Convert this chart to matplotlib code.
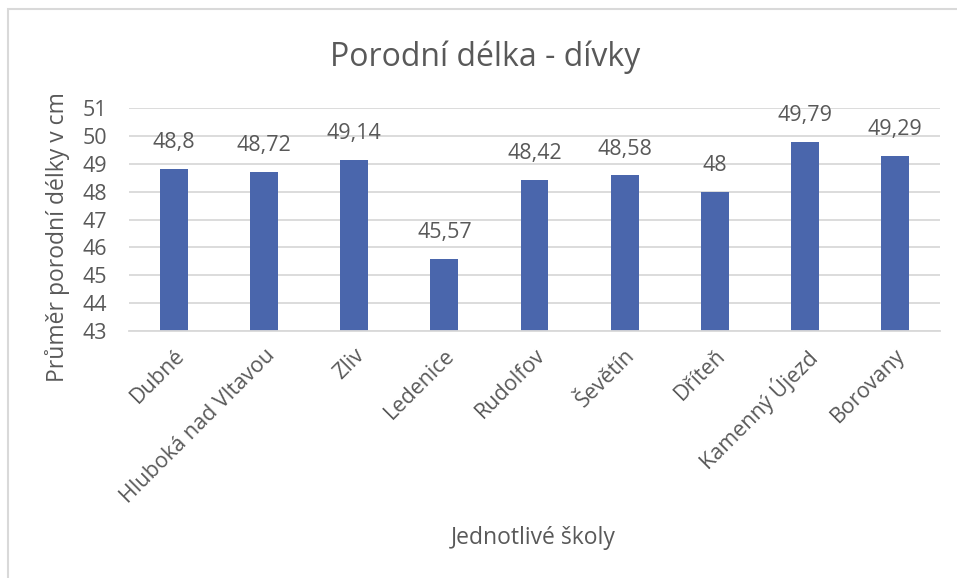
import numpy as np
import matplotlib.pyplot as plt
from matplotlib.patches import Rectangle

schools = ['Dubné', 'Hluboká nad Vltavou', 'Zliv', 'Ledenice', 'Rudolfov',
           'Ševětín', 'Dříteň', 'Kamenný Újezd', 'Borovany']
lengths = [48.8, 48.72, 49.14, 45.57, 48.42, 48.58, 48.0, 49.79, 49.29]
labels = ['48,8', '48,72', '49,14', '45,57', '48,42', '48,58', '48', '49,79', '49,29']
yticks = [43, 44, 45, 46, 47, 48, 49, 50, 51]

txt = '#595959'
grid = '#D9D9D9'
plt.rcParams['font.family'] = ['Open Sans', 'DejaVu Sans']

fig = plt.figure(figsize=(9.57, 5.78), dpi=100)
# chart frame (cut off on right and bottom)
fig.patches.append(Rectangle((8 / 957, -0.1), 1.2, 1 - 9 / 578 + 0.1,
                             transform=fig.transFigure, fill=False,
                             edgecolor=grid, lw=1.5))

ax = fig.add_axes([129 / 957, 1 - 331 / 578, (940 - 129) / 957, (331 - 108) / 578])
x = np.arange(len(schools))
ax.bar(x, lengths, width=0.31, color='#4A66AC', zorder=3)
ax.set_ylim(43, 51)
ax.set_xlim(-0.5, len(schools) - 0.5)
ax.set_yticks(yticks)
ax.grid(axis='y', color=grid, lw=1.3, zorder=0)
for s in ['top', 'right', 'left']:
    ax.spines[s].set_visible(False)
ax.spines['bottom'].set_color(grid)
ax.spines['bottom'].set_linewidth(1.3)
ax.spines['bottom'].set_zorder(4)
ax.tick_params(axis='both', length=0, labelsize=15.5, labelcolor=txt)
ax.tick_params(axis='y', pad=16)
ax.set_xticks(x)
ax.set_xticklabels(schools, rotation=45, ha='right', va='top',
                   rotation_mode='anchor')
ax.tick_params(axis='x', pad=10)

for xi, v, l in zip(x, lengths, labels):
    ax.annotate(l, (xi, v), xytext=(0, 19), textcoords='offset points',
                ha='center', va='center', fontsize=15.5, color=txt)

fig.text(485 / 957, 1 - 57 / 578, 'Porodní délka - dívky', ha='center',
         va='center', fontsize=23, color=txt)
fig.text(58 / 957, 1 - 237 / 578, 'Průměr porodní délky v cm', rotation=90,
         ha='center', va='center', fontsize=16.5, color=txt)
fig.text(533 / 957, 1 - 538 / 578, 'Jednotlivé školy', ha='center',
         va='center', fontsize=16.5, color=txt)

fig.savefig('out.png', dpi=100)
